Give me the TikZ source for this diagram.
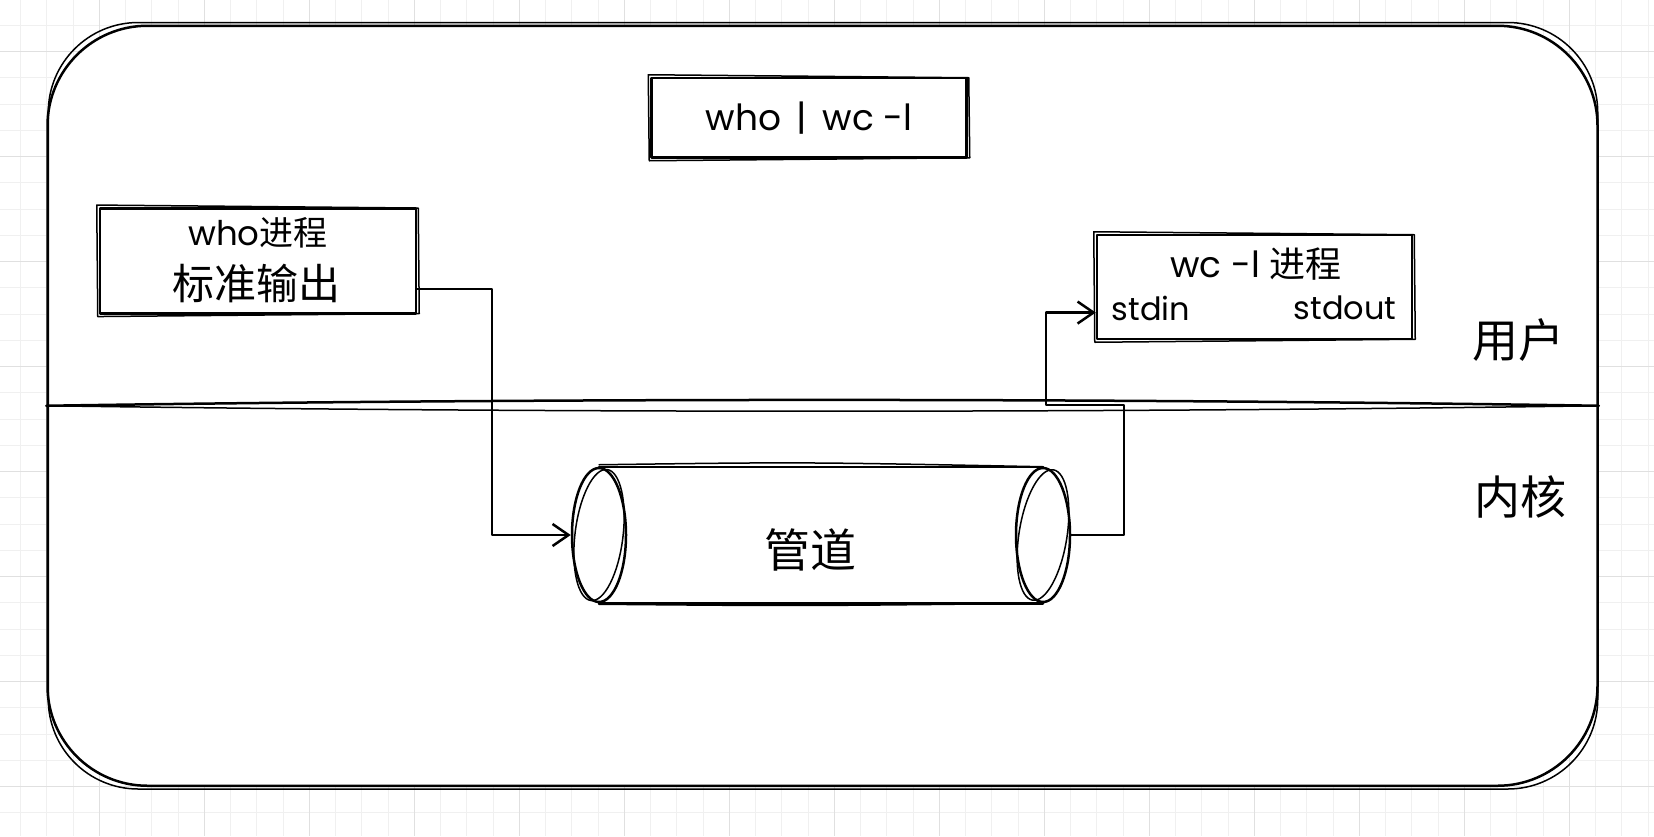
\documentclass[tikz,border=0pt]{standalone}
\usepackage{fontspec}
\setmainfont{Poppins}
\newfontfamily\cjk{Noto Sans CJK SC}
\usetikzlibrary{arrows.meta,shapes.geometric,calc}
\newcommand\zhtxt[1]{{\cjk #1}}
\newcommand\sketchbox[1]{%
  \draw[ink2] ([shift={(-2,-2)}]#1.north west) -- ([shift={(1,1)}]#1.north east)
    -- ([shift={(2,-1)}]#1.south east) -- ([shift={(-1,2)}]#1.south west) -- cycle;}
\begin{document}
\begin{tikzpicture}[x=1pt,y=-1pt,
  gridminor/.style={draw=black!6, line width=1pt},
  gridmajor/.style={draw=black!12, line width=1pt},
  ink/.style={draw=black, line width=2.5pt, line cap=round, line join=round},
  ink2/.style={draw=black, line width=1.5pt, line cap=round, line join=round},
  boxnode/.style={ink, fill=white, inner sep=0pt},
  lbl/.style={inner sep=0pt, text=black, align=center},
  conn/.style={ink, -{Straight Barb[length=16pt,width=22pt,line width=2.5pt]}}
]
\useasboundingbox (0,0) rectangle (1654,836);
\fill[white] (0,0) rectangle (1654,836);
% grid
\foreach \i in {-3,...,59} \draw[gridminor] ({99.3+26.25*\i},0) -- ({99.3+26.25*\i},836);
\foreach \i in {-1,...,29} \draw[gridminor] (0,{51.7+26.25*\i}) -- (1654,{51.7+26.25*\i});
\foreach \i in {0,4,...,56} \draw[gridmajor] ({99.3+26.25*\i},0) -- ({99.3+26.25*\i},836);
\foreach \i in {0,4,...,28} \draw[gridmajor] (0,{51.7+26.25*\i}) -- (1654,{51.7+26.25*\i});

% frame
\node[boxnode, rounded corners=100pt, minimum width=1550pt, minimum height=760pt] (frame) at (822.5,405.75) {};
\draw[ink2, rounded corners=90pt] ([shift={(2,-2)}]frame.north west) rectangle ([shift={(-1,2)}]frame.south east);

% divider
\draw[ink] (frame.west) .. controls (560,398) and (1090,398) .. (frame.east);
\draw[ink2] (frame.west) .. controls (560,413) and (1090,413) .. (frame.east);

% command box
\node[boxnode, minimum width=315pt, minimum height=79.5pt, font=\fontsize{36}{40}\selectfont] (cmd) at (809,117.75) {who \,|\, wc -l};
\sketchbox{cmd}

% who process box
\node[boxnode, minimum width=316pt, minimum height=105pt] (who) at (258,260.8) {};
\sketchbox{who}
\node[lbl, font=\fontsize{34}{40}\selectfont] (whoT1) at (258,233) {who\zhtxt{进程}};
\node[lbl, font=\fontsize{42}{48}\selectfont] (whoT2) at (256,283) {\zhtxt{标准输出}};

% wc process box
\node[boxnode, minimum width=315pt, minimum height=104pt] (wc) at (1254.5,287) {};
\sketchbox{wc}
\node[lbl, font=\fontsize{36}{40}\selectfont] (wcT) at (1256,264) {wc -l \zhtxt{进程}};
\node[lbl, font=\fontsize{32}{36}\selectfont] (stdin) at (1151,308) {stdin};
\node[lbl, font=\fontsize{32}{36}\selectfont] (stdout) at (1345,308) {stdout};

% layer labels
\node[lbl, font=\fontsize{46}{50}\selectfont] (user) at (1518,340) {\zhtxt{用户}};
\node[lbl, font=\fontsize{46}{50}\selectfont] (kernel) at (1520,497) {\zhtxt{内核}};

% pipe
\node[ellipse, ink, minimum width=54pt, minimum height=134pt, inner sep=0pt] (capL) at (599,535) {};
\node[ellipse, ink, minimum width=54pt, minimum height=134pt, inner sep=0pt] (capR) at (1043,535) {};
\draw[ink2, rotate around={-7:(capL.center)}] (capL.center) ellipse [x radius=24, y radius=66];
\draw[ink2, rotate around={-9:(capR.center)}] (capR.center) ellipse [x radius=24, y radius=66];
\draw[ink] (capL.north) -- (capR.north);
\draw[ink2] ([shift={(0,-2)}]capL.north) .. controls (800,462) .. (capR.north);
\draw[ink] (capL.south) -- (capR.south);
\draw[ink2] ([shift={(0,1)}]capL.south) .. controls (800,606) .. (capR.south);
\node[lbl, font=\fontsize{46}{50}\selectfont] (pipe) at (810,550) {\zhtxt{管道}};

% connectors
\coordinate (whoOut) at ($(who.north east)!0.76!(who.south east)$);
\coordinate (bend1) at (492,400);
\draw[conn] (whoOut) -| (bend1) |- (capL.west);
\coordinate (wcIn) at ($(wc.north west)!0.74!(wc.south west)$);
\coordinate (r1) at (1124,405);
\coordinate (r2) at (1046,360);
\draw[conn] (capR.east) -| (r1) -| (r2) |- (wcIn);
\end{tikzpicture}
\end{document}
